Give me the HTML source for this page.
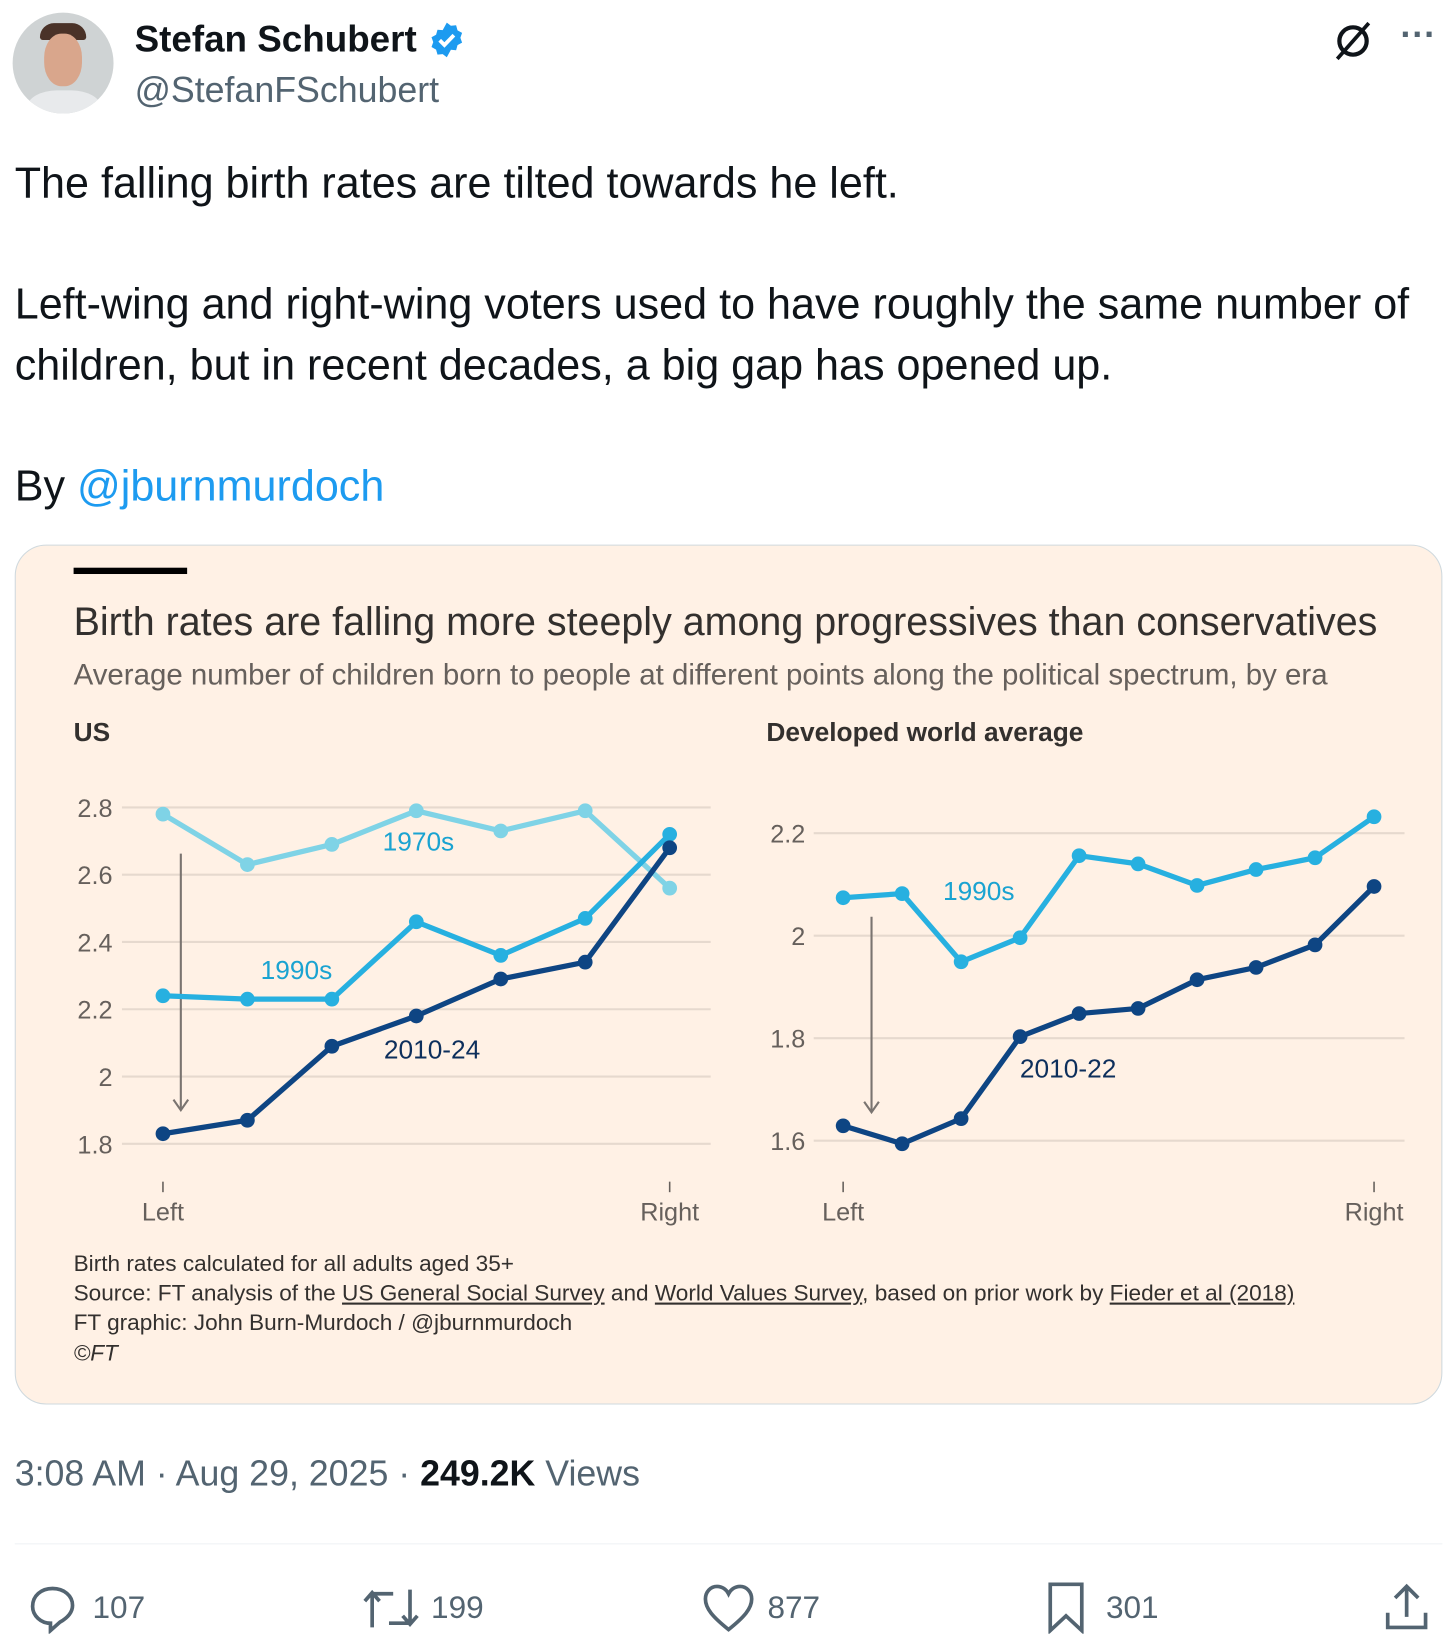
<!DOCTYPE html>
<html><head><meta charset="utf-8">
<style>
html,body{margin:0;padding:0;background:#fff;overflow:hidden;width:1456px;height:1649px}
#wrap{position:absolute;left:0;top:0;width:1385px;height:1569px;transform:scale(1.0513);transform-origin:0 0;font-family:"Liberation Sans",sans-serif;color:#0f1419}
.abs{position:absolute;white-space:nowrap}
.txt{font-size:41px;line-height:58px}
.foot{font-size:21.5px;color:#33302e}
.foot u{text-decoration:underline}
.act{font-size:30px;color:#536471}
</style></head><body>
<div id="wrap">
  <div class="abs" style="left:12px;top:12px;width:96px;height:96px;border-radius:50%;overflow:hidden;background:#cfd3d4;">
    <div style="position:absolute;left:26px;top:10px;width:44px;height:16px;border-radius:20px 20px 4px 4px;background:#4a3228"></div>
    <div style="position:absolute;left:30px;top:20px;width:36px;height:50px;border-radius:45%;background:#d9a68c"></div>
    <div style="position:absolute;left:14px;top:74px;width:70px;height:40px;border-radius:40% 40% 0 0;background:#e8eaec"></div>
  </div>
  <div class="abs" style="left:128px;top:18px;font-size:35px;font-weight:bold">Stefan Schubert</div>
  <svg class="abs" style="left:407px;top:20px" width="36" height="36" viewBox="0 0 24 24"><path fill="#1d9bf0" d="M12 1l2.6 2 3.3-.3.9 3.2 2.9 1.6-1.1 3.1 1.1 3.1-2.9 1.6-.9 3.2-3.3-.3L12 23l-2.6-2-3.3.3-.9-3.2-2.9-1.6 1.1-3.1-1.1-3.1 2.9-1.6.9-3.2 3.3.3z"/><path d="M7.5 12.2l3 3 6-6.2" stroke="#fff" stroke-width="2.4" fill="none"/></svg>
  <div class="abs" style="left:128px;top:67px;font-size:34px;color:#536471">@StefanFSchubert</div>
  <svg class="abs" style="left:1266px;top:18px" width="42" height="42" viewBox="0 0 42 42"><circle cx="21" cy="21" r="13" stroke="#0f1419" stroke-width="4" fill="none"/><path d="M36 4L6 38" stroke="#0f1419" stroke-width="3.5"/></svg>
  <div class="abs" style="left:1332px;top:14px;font-size:34px;color:#536471;font-weight:bold">···</div>

  <div class="abs txt" style="left:14px;top:145px">The falling birth rates are tilted towards he left.</div>
  <div class="abs txt" style="left:14px;top:260px">Left-wing and right-wing voters used to have roughly the same number of</div>
  <div class="abs txt" style="left:14px;top:318px">children, but in recent decades, a big gap has opened up.</div>
  <div class="abs txt" style="left:14px;top:433px">By <span style="color:#1d9bf0">@jburnmurdoch</span></div>

  <div class="abs" style="left:14px;top:518px;width:1356px;height:816px;border:1px solid #cfd9de;border-radius:30px;background:#fff1e5;overflow:hidden">
    <div class="abs" style="left:55px;top:21px;width:108px;height:6px;background:#000"></div>
    <div class="abs" style="left:55px;top:51px;font-size:37.5px;color:#33302e">Birth rates are falling more steeply among progressives than conservatives</div>
    <div class="abs" style="left:55px;top:107px;font-size:28px;color:#66605c">Average number of children born to people at different points along the political spectrum, by era</div>
    <div class="abs" style="left:55px;top:164px;font-size:25px;font-weight:bold;color:#33302e">US</div>
    <div class="abs" style="left:714px;top:164px;font-size:25px;font-weight:bold;color:#33302e">Developed world average</div>
    <div class="abs foot" style="left:55px;top:671px">Birth rates calculated for all adults aged 35+</div>
    <div class="abs foot" style="left:55px;top:699px">Source: FT analysis of the <u>US General Social Survey</u> and <u>World Values Survey</u>, based on prior work by <u>Fieder et al (2018)</u></div>
    <div class="abs foot" style="left:55px;top:727px">FT graphic: John Burn-Murdoch / @jburnmurdoch</div>
    <div class="abs foot" style="left:55px;top:756px;font-style:italic">©FT</div>
  </div>
  <svg id="charts" class="abs" style="left:0;top:0" width="1385" height="1340"></svg>

  <div class="abs" style="left:14px;top:1383px;font-size:34px;color:#536471">3:08 AM · Aug 29, 2025 · <b style="color:#0f1419">249.2K</b> Views</div>
  <div class="abs" style="left:14px;top:1468px;width:1358px;height:1px;background:#eff3f4"></div>

  <svg class="abs" style="left:26px;top:1506px" width="48" height="48" viewBox="0 0 48 48"><path d="M24 5C13 5 5 12 5 22c0 9 8 16 17 16v7l9-8c7-4 12-9 12-16C43 12 35 5 24 5z" fill="none" stroke="#536471" stroke-width="3.5"/></svg>
  <div class="abs act" style="left:88px;top:1513px">107</div>
  <svg class="abs" style="left:344px;top:1508px" width="56" height="44" viewBox="0 0 56 44"><path d="M10 40V8M3 15l7-8 7 8M10 8h20M46 4v32M39 29l7 8 7-8M46 36H26" fill="none" stroke="#536471" stroke-width="3.5"/></svg>
  <div class="abs act" style="left:410px;top:1513px">199</div>
  <svg class="abs" style="left:668px;top:1506px" width="50" height="48" viewBox="0 0 50 48"><path d="M25 44C10 32 3 24 3 15 3 8 8 3 14 3c5 0 9 3 11 7 2-4 6-7 11-7 6 0 11 5 11 12 0 9-7 17-22 29z" fill="none" stroke="#536471" stroke-width="3.5"/></svg>
  <div class="abs act" style="left:730px;top:1513px">877</div>
  <svg class="abs" style="left:996px;top:1504px" width="36" height="50" viewBox="0 0 36 50"><path d="M3 3h30v44L18 33 3 47z" fill="none" stroke="#536471" stroke-width="3.5"/></svg>
  <div class="abs act" style="left:1052px;top:1513px">301</div>
  <svg class="abs" style="left:1316px;top:1506px" width="44" height="46" viewBox="0 0 44 46"><path d="M22 32V4M11 14L22 3l11 11M4 28v14h36V28" fill="none" stroke="#536471" stroke-width="3.5"/></svg>
</div>
<script>
// US panel data
const usCats = ['Left','','','','','','Right'];
const us1970s = [2.78, 2.63, 2.69, 2.79, 2.73, 2.79, 2.56];
const us1990s = [2.24, 2.23, 2.23, 2.46, 2.36, 2.47, 2.72];
const us2010s = [1.83, 1.87, 2.09, 2.18, 2.29, 2.34, 2.68];
const usTicks = [2.8, 2.6, 2.4, 2.2, 2, 1.8];
const usTickLabels = ['2.8','2.6','2.4','2.2','2','1.8'];
// Developed world panel data
const wCats = ['Left','','','','','','','','','Right'];
const w1990s = [2.074, 2.082, 1.949, 1.996, 2.156, 2.14, 2.098, 2.129, 2.152, 2.232];
const w2010s = [1.629, 1.594, 1.643, 1.803, 1.848, 1.858, 1.914, 1.938, 1.982, 2.096];
const wTicks = [2.2, 2, 1.8, 1.6];
const wTickLabels = ['2.2','2','1.8','1.6'];

const NS='http://www.w3.org/2000/svg';
const svg=document.getElementById('charts');
function mk(tag,attrs){const e=document.createElementNS(NS,tag);for(const k in attrs)e.setAttribute(k,attrs[k]);svg.appendChild(e);return e;}
function text(x,y,s,attrs){const t=mk('text',Object.assign({x:x,y:y,'font-family':'Liberation Sans, sans-serif'},attrs));t.textContent=s;return t;}

function panel(p){
  const xs=i=>p.x0+(p.x1-p.x0)*i/(p.n-1);
  const ys=v=>p.yRef+(p.vRef-v)*p.pxPer;
  p.ticks.forEach((v,i)=>{
    const g=mk('line',{x1:p.gx0,x2:p.gx1,y1:ys(v),y2:ys(v),stroke:'#e6d9ce','stroke-width':2});
    
    
    const t=text(p.lx,ys(v)+9,p.tickLabels[i],{'font-size':24,fill:'#66605c','text-anchor':'end'});
    
    
  });
  [0,p.n-1].forEach(i=>{
    const tk=mk('line',{x1:xs(i),x2:xs(i),y1:1124,y2:1134,stroke:'#66605c','stroke-width':1.5});
    
    
    const t=text(xs(i),1161,p.cats[i],{'font-size':24,fill:'#66605c','text-anchor':'middle'});
    
    
  });
  const a=mk('line',{x1:p.ax,x2:p.ax,y1:p.ay0,y2:p.ay1,stroke:'#7a7470','stroke-width':2});
  
  
  const ah=mk('path',{d:`M${p.ax-7} ${p.ay1-10}L${p.ax} ${p.ay1}L${p.ax+7} ${p.ay1-10}`,fill:'none',stroke:'#7a7470','stroke-width':2});
  
  
  p.series.forEach(s=>{
    const d=s.vals.map((v,i)=>(i?'L':'M')+xs(i)+' '+ys(v)).join('');
    const pl=mk('path',{d:d,fill:'none',stroke:s.color,'stroke-width':5,'stroke-linejoin':'round'});
    
    
    s.vals.forEach((v,i)=>{
      const c=mk('circle',{cx:xs(i),cy:ys(v),r:7,fill:s.color});
      
      
    });
    const lt=text(s.lx,s.ly,s.label,{'font-size':25,fill:s.tcolor,'text-anchor':'middle'});
    
    
  });
}
panel({name:'us',n:7,x0:155,x1:637,gx0:116,gx1:676,lx:107,yRef:768,vRef:2.8,pxPer:320,ticks:usTicks,tickLabels:usTickLabels,cats:usCats,ax:172,ay0:812,ay1:1056,
  series:[
    {key:'1970s',vals:us1970s,color:'#7fd3e6',tcolor:'#1aa3d1',label:'1970s',lx:398,ly:809},
    {key:'1990s',vals:us1990s,color:'#27b0e0',tcolor:'#1aa3d1',label:'1990s',lx:282,ly:931},
    {key:'2010-24',vals:us2010s,color:'#0e4583',tcolor:'#0d2f5c',label:'2010-24',lx:411,ly:1007}
  ]});
panel({name:'world',n:10,x0:802,x1:1307,gx0:774,gx1:1336,lx:766,yRef:890,vRef:2,pxPer:487.5,ticks:wTicks,tickLabels:wTickLabels,cats:wCats,ax:829,ay0:872,ay1:1058,
  series:[
    {key:'1990s',vals:w1990s,color:'#27b0e0',tcolor:'#1aa3d1',label:'1990s',lx:931,ly:856},
    {key:'2010-22',vals:w2010s,color:'#0e4583',tcolor:'#0d2f5c',label:'2010-22',lx:1016,ly:1025}
  ]});
</script>
</body></html>
